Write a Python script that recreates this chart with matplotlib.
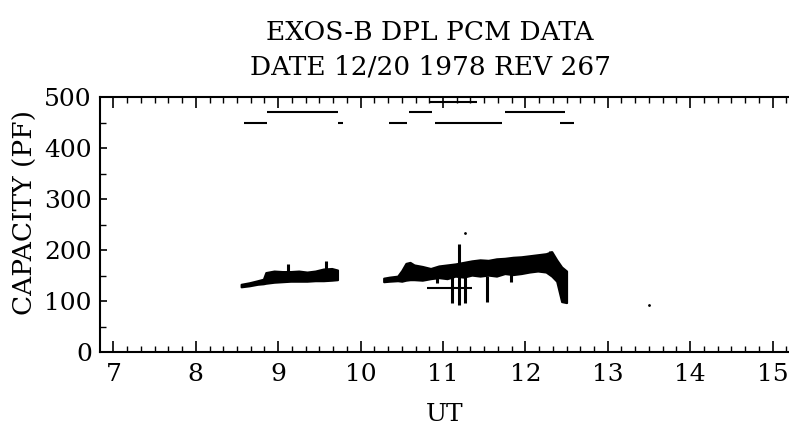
import matplotlib.pyplot as plt
from matplotlib.ticker import MultipleLocator

plt.rcParams['font.family'] = 'DejaVu Serif'

# pass 1 (UT hours, lower / upper edge of the trace, pF)
ut1 = [8.55, 8.65, 8.75, 8.82, 8.85, 8.95, 9.05, 9.15, 9.25, 9.35, 9.45, 9.55, 9.65, 9.72]
lo1 = [128, 130, 133, 134, 135, 137, 138, 139, 139, 139, 140, 140, 141, 142]
hi1 = [133, 136, 140, 143, 156, 159, 158, 158, 159, 157, 159, 163, 164, 161]

# pass 2
ut2 = [10.28, 10.35, 10.45, 10.5, 10.55, 10.6, 10.65, 10.75, 10.85, 10.95, 11.05, 11.15, 11.25,
       11.35, 11.45, 11.55, 11.65, 11.75, 11.85, 11.95, 12.05, 12.15, 12.25, 12.32, 12.38,
       12.44, 12.5]
lo2 = [138, 139, 140, 139, 141, 142, 142, 141, 144, 146, 144, 149, 147,
       151, 149, 151, 149, 154, 152, 154, 157, 159, 157, 149, 139,
       99, 97]
hi2 = [145, 147, 149, 160, 174, 176, 171, 168, 164, 169, 171, 173, 176,
       179, 181, 180, 183, 184, 186, 187, 189, 191, 193, 197, 181,
       167, 159]

# isolated spikes in the trace
spike_ut = [9.12, 9.58, 11.11, 11.19, 11.27, 11.53, 11.82, 12.12, 12.3, 10.93]
spike_lo = [150, 155, 96, 92, 96, 99, 138, 165, 170, 135]
spike_hi = [172, 179, 165, 213, 172, 150, 160, 182, 199, 150]

# horizontal step near 125 pF and stray dots
step_ut = [10.81, 11.35]
step_pf = 125
dot_ut = [11.27, 13.5]
dot_pf = [234, 92]

# status bars along the top
flag_pf = [450, 450, 450, 450, 450, 470, 470, 470, 490]
flag_start = [8.59, 9.72, 10.35, 10.9, 12.42, 8.87, 10.59, 11.75, 10.83]
flag_end = [8.86, 9.79, 10.56, 11.72, 12.59, 9.73, 10.87, 12.48, 11.41]

fig = plt.figure(figsize=(7.89, 4.32), dpi=100)
ax = fig.add_axes([0.127, 0.185, 0.872, 0.59])

ax.fill_between(ut1, lo1, hi1, color='black', linewidth=1.5)
ax.fill_between(ut2, lo2, hi2, color='black', linewidth=1.5)
ax.vlines(spike_ut, spike_lo, spike_hi, color='black', linewidth=2.2)
ax.hlines(step_pf, step_ut[0], step_ut[1], color='black', linewidth=1.5)
ax.plot(dot_ut, dot_pf, 'k.', markersize=2)
ax.hlines(flag_pf, flag_start, flag_end, color='black', linewidth=1.5)

ax.set_xlim(6.84, 15.19)
ax.set_ylim(0, 500)
ax.xaxis.set_major_locator(MultipleLocator(1))
ax.xaxis.set_minor_locator(MultipleLocator(1 / 6))
ax.yaxis.set_major_locator(MultipleLocator(100))
ax.yaxis.set_minor_locator(MultipleLocator(50))
ax.tick_params(axis='x', which='both', direction='in', top=True, labelsize=18, pad=8)
ax.tick_params(axis='x', which='major', length=8, width=1.2)
ax.tick_params(axis='x', which='minor', length=4, width=1)
ax.tick_params(axis='y', which='both', direction='in', labelsize=18, pad=6)
ax.tick_params(axis='y', which='major', length=5, width=1.2)
ax.tick_params(axis='y', which='minor', length=4, width=1)
ax.spines['right'].set_visible(False)
for s in ['left', 'bottom', 'top']:
    ax.spines[s].set_linewidth(1.5)

ax.set_xlabel('UT', fontsize=18, labelpad=12)
fig.text(0.032, 0.507, 'CAPACITY (PF)', rotation=90, fontsize=19, ha='center', va='center')
fig.text(0.545, 0.925, 'EXOS-B DPL PCM DATA', fontsize=19, ha='center', va='center')
fig.text(0.545, 0.845, 'DATE 12/20 1978 REV 267', fontsize=19, ha='center', va='center')

fig.savefig('out.png', dpi=100)
